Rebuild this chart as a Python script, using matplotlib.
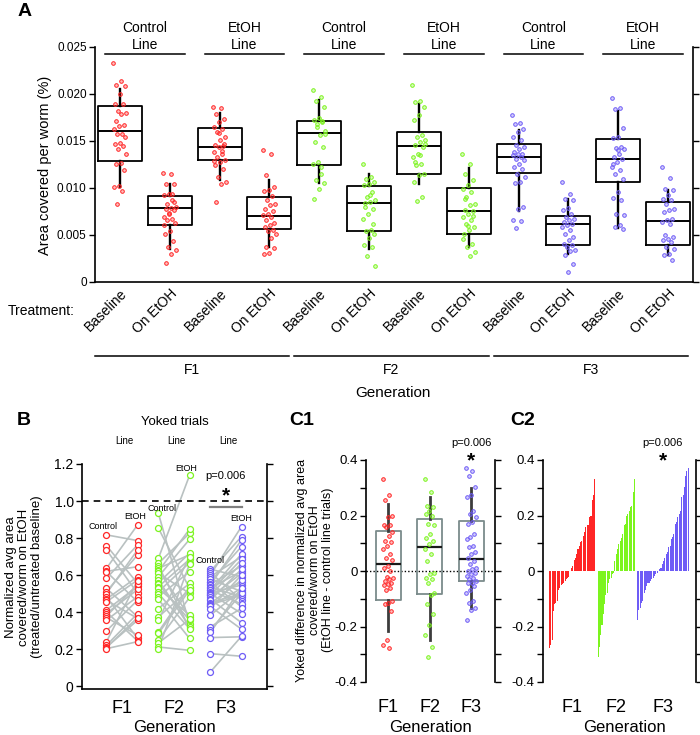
import numpy as np
import matplotlib
matplotlib.use('Agg')
import matplotlib.pyplot as plt
from matplotlib.colors import to_rgba
from matplotlib.transforms import blended_transform_factory as btf
from matplotlib.ticker import FixedLocator

plt.rcParams['font.family'] = ['Liberation Sans', 'DejaVu Sans']

# ---------------- data ----------------
generations = ['F1', 'F2', 'F3']
line_names = ['Control', 'EtOH']
treatments = ['Baseline', 'On EtOH']
gen_colors = ['#ff2626', '#7cf41e', '#6e5cf6']

# Panel A box statistics, 12 groups: (F1 ctrl-base, F1 ctrl-EtOH, F1 EtOH-base, F1 EtOH-EtOH, F2 ..., F3 ...)
a_q1 = [0.01291, 0.00610, 0.01298, 0.00564, 0.01241, 0.00539, 0.01145, 0.00514, 0.01163, 0.00390, 0.01067, 0.00394]
a_med = [0.01606, 0.00787, 0.01436, 0.00702, 0.01582, 0.00837, 0.01443, 0.00755, 0.01333, 0.00620, 0.01305, 0.00652]
a_q3 = [0.01869, 0.00915, 0.01635, 0.00908, 0.01713, 0.01021, 0.01599, 0.01004, 0.01465, 0.00706, 0.01518, 0.00851]
a_wlo = [0.01010, 0.00355, 0.01082, 0.00372, 0.01053, 0.00355, 0.01039, 0.00369, 0.00755, 0.00301, 0.00574, 0.00284]
a_whi = [0.02057, 0.01046, 0.01801, 0.01089, 0.01933, 0.01150, 0.01890, 0.01216, 0.01620, 0.00887, 0.01816, 0.00975]

a_f1_ctrl_base = [0.02333, 0.02135, 0.02092, 0.02081, 0.02004, 0.01897, 0.01890, 0.01816, 0.01798, 0.01791,
                  0.01713, 0.01674, 0.01656, 0.01631, 0.01578, 0.01571, 0.01543, 0.01479, 0.01465, 0.01443,
                  0.01411, 0.01358, 0.01270, 0.01259, 0.01188, 0.01021, 0.01011, 0.00968, 0.00833]
a_f1_ctrl_etoh = [0.01160, 0.01145, 0.01046, 0.01039, 0.00940, 0.00922, 0.00876, 0.00826, 0.00798, 0.00791,
                  0.00780, 0.00762, 0.00727, 0.00691, 0.00674, 0.00656, 0.00628, 0.00543, 0.00514, 0.00436,
                  0.00372, 0.00344, 0.00294, 0.00202, 0.00850, 0.00730, 0.00610, 0.00940]
a_f1_etoh_base = [0.01862, 0.01855, 0.01791, 0.01738, 0.01702, 0.01649, 0.01631, 0.01596, 0.01543, 0.01507,
                  0.01454, 0.01443, 0.01436, 0.01383, 0.01365, 0.01330, 0.01301, 0.01277, 0.01241, 0.01206,
                  0.01117, 0.01064, 0.01046, 0.00851, 0.01470, 0.01580, 0.01290, 0.01390]
a_f1_etoh_etoh = [0.01401, 0.01358, 0.01135, 0.01011, 0.00982, 0.00968, 0.00911, 0.00876, 0.00833, 0.00816,
                  0.00780, 0.00755, 0.00727, 0.00709, 0.00691, 0.00656, 0.00628, 0.00603, 0.00585, 0.00557,
                  0.00543, 0.00514, 0.00472, 0.00372, 0.00365, 0.00309, 0.00294]
a_f2_ctrl_base = [0.02046, 0.01968, 0.01926, 0.01862, 0.01748, 0.01727, 0.01713, 0.01684, 0.01578, 0.01560,
                  0.01489, 0.01436, 0.01277, 0.01259, 0.01152, 0.01082, 0.01053, 0.00993, 0.00879, 0.01700,
                  0.01650, 0.01610, 0.01220]
a_f2_ctrl_etoh = [0.01259, 0.01117, 0.01099, 0.01064, 0.01046, 0.01028, 0.00957, 0.00904, 0.00869, 0.00851,
                  0.00798, 0.00780, 0.00727, 0.00674, 0.00550, 0.00543, 0.00514, 0.00472, 0.00390, 0.00372,
                  0.00273, 0.00170, 0.00930, 0.00840, 0.00620]
a_f2_etoh_base = [0.02092, 0.01926, 0.01915, 0.01862, 0.01773, 0.01720, 0.01560, 0.01543, 0.01507, 0.01489,
                  0.01454, 0.01436, 0.01358, 0.01330, 0.01252, 0.01241, 0.01152, 0.01135, 0.01064, 0.00904,
                  0.00862, 0.01470, 0.01350, 0.01280]
a_f2_etoh_etoh = [0.01365, 0.01259, 0.01152, 0.01082, 0.01028, 0.00993, 0.00957, 0.00904, 0.00833, 0.00816,
                  0.00762, 0.00755, 0.00727, 0.00691, 0.00656, 0.00621, 0.00585, 0.00550, 0.00514, 0.00408,
                  0.00372, 0.00319, 0.00273, 0.00880, 0.00700, 0.00600, 0.00460]
a_f3_ctrl_base = [0.01780, 0.01695, 0.01677, 0.01631, 0.01596, 0.01543, 0.01507, 0.01454, 0.01436, 0.01418,
                  0.01383, 0.01365, 0.01358, 0.01348, 0.01330, 0.01312, 0.01294, 0.01259, 0.01223, 0.01206,
                  0.01152, 0.01117, 0.01064, 0.01053, 0.00798, 0.00780, 0.00656, 0.00649, 0.00578]
a_f3_ctrl_etoh = [0.01064, 0.00933, 0.00887, 0.00869, 0.00791, 0.00762, 0.00727, 0.00691, 0.00674, 0.00656,
                  0.00638, 0.00621, 0.00603, 0.00585, 0.00550, 0.00514, 0.00479, 0.00443, 0.00408, 0.00390,
                  0.00372, 0.00344, 0.00330, 0.00284, 0.00195, 0.00106]
a_f3_etoh_base = [0.01961, 0.01855, 0.01837, 0.01642, 0.01543, 0.01535, 0.01436, 0.01429, 0.01418, 0.01365,
                  0.01330, 0.01312, 0.01277, 0.01223, 0.01188, 0.01152, 0.01099, 0.00957, 0.00897, 0.00869,
                  0.00727, 0.00709, 0.00603, 0.00585, 0.00567, 0.01400, 0.01260]
a_f3_etoh_etoh = [0.01223, 0.01110, 0.00993, 0.00975, 0.00922, 0.00887, 0.00869, 0.00833, 0.00780, 0.00762,
                  0.00745, 0.00674, 0.00656, 0.00638, 0.00621, 0.00496, 0.00479, 0.00461, 0.00443, 0.00426,
                  0.00372, 0.00355, 0.00301, 0.00284, 0.00238]

# Panel B: yoked pairs (control-line value, EtOH-line value), same index = one yoked trial
b_f1_ctrl = [0.817, 0.759, 0.736, 0.636, 0.620, 0.618, 0.582, 0.528, 0.510, 0.500, 0.483, 0.470, 0.464,
             0.455, 0.410, 0.400, 0.392, 0.378, 0.370, 0.356, 0.298, 0.239, 0.220, 0.210, 0.208, 0.202]
b_f1_etoh = [0.786, 0.555, 0.501, 0.871, 0.645, 0.455, 0.763, 0.374, 0.709, 0.736, 0.257, 0.591, 0.365,
             0.573, 0.540, 0.244, 0.522, 0.550, 0.275, 0.483, 0.464, 0.570, 0.392, 0.356, 0.370, 0.240]
b_f2_ctrl = [0.934, 0.853, 0.690, 0.663, 0.651, 0.636, 0.627, 0.620, 0.609, 0.591, 0.573, 0.558, 0.550, 0.537,
             0.528, 0.510, 0.500, 0.483, 0.468, 0.419, 0.374, 0.356, 0.293, 0.284, 0.248, 0.233, 0.211, 0.202]
b_f2_etoh = [0.334, 0.528, 1.139, 0.826, 0.311, 0.709, 0.374, 0.848, 0.501, 0.793, 0.320, 0.718, 0.356, 0.685,
             0.383, 0.667, 0.310, 0.618, 0.257, 0.555, 0.520, 0.700, 0.537, 0.519, 0.479, 0.360, 0.193, 0.660]
b_f3_ctrl = [0.631, 0.620, 0.613, 0.600, 0.591, 0.580, 0.564, 0.560, 0.550, 0.546, 0.533, 0.530, 0.520, 0.519,
             0.510, 0.504, 0.500, 0.492, 0.490, 0.479, 0.470, 0.464, 0.450, 0.446, 0.440, 0.432, 0.430, 0.419,
             0.383, 0.320, 0.302, 0.290, 0.262, 0.175, 0.076]
b_f3_etoh = [0.591, 0.808, 0.464, 0.862, 0.699, 0.510, 0.754, 0.428, 0.649, 0.790, 0.483, 0.620, 0.714, 0.443,
             0.685, 0.546, 0.392, 0.663, 0.560, 0.609, 0.342, 0.631, 0.500, 0.573, 0.490, 0.528, 0.307, 0.600,
             0.519, 0.420, 0.501, 0.530, 0.266, 0.161, 0.269]

# Panel C: yoked differences (EtOH line - control line)
c_f1 = [0.333, 0.275, 0.255, 0.200, 0.194, 0.166, 0.164, 0.158, 0.139, 0.127, 0.109, 0.103, 0.090, 0.079,
        0.061, 0.048, 0.039, 0.018, 0.012, 0.000, -0.020, -0.024, -0.030, -0.035, -0.042, -0.046, -0.050,
        -0.060, -0.070, -0.109, -0.115, -0.120, -0.145, -0.248, -0.267, -0.279]
c_f2 = [0.333, 0.285, 0.236, 0.230, 0.218, 0.206, 0.200, 0.170, 0.164, 0.133, 0.120, 0.109, 0.097, 0.080,
        0.061, 0.036, -0.006, -0.012, -0.024, -0.030, -0.042, -0.079, -0.085, -0.120, -0.155, -0.194,
        -0.230, -0.273, -0.309]
c_f3 = [0.370, 0.361, 0.342, 0.303, 0.273, 0.267, 0.218, 0.206, 0.194, 0.176, 0.170, 0.133, 0.121, 0.115,
        0.091, 0.085, 0.067, 0.061, 0.048, 0.036, 0.024, 0.012, 0.006, 0.000, -0.006, -0.012, -0.018,
        -0.024, -0.030, -0.036, -0.042, -0.045, -0.055, -0.067, -0.080, -0.109, -0.115, -0.133, -0.139, -0.176]
c_q1 = [-0.104, -0.082, -0.036]
c_med = [0.027, 0.087, 0.045]
c_q3 = [0.143, 0.188, 0.179]
c_wlo = [-0.216, -0.248, -0.133]
c_whi = [0.242, 0.267, 0.300]
p_text = 'p=0.006'

# ---------------- figure ----------------
W, H = 700, 735
fig = plt.figure(figsize=(7, 7.35), dpi=100)


def fx(px):
    return px / W


def fy(py):
    return 1 - py / H


def jitter(n, w):
    return ((np.arange(n) * 0.618034) % 1 - 0.5) * 2 * w


# ===== Panel A =====
axA = fig.add_axes([fx(95), fy(282), fx(693 - 95), (282 - 47) / H])
a_points = [a_f1_ctrl_base, a_f1_ctrl_etoh, a_f1_etoh_base, a_f1_etoh_etoh,
            a_f2_ctrl_base, a_f2_ctrl_etoh, a_f2_etoh_base, a_f2_etoh_etoh,
            a_f3_ctrl_base, a_f3_ctrl_etoh, a_f3_etoh_base, a_f3_etoh_etoh]
statsA = [dict(q1=a_q1[i], med=a_med[i], q3=a_q3[i], whislo=a_wlo[i], whishi=a_whi[i], fliers=[])
          for i in range(12)]
axA.bxp(statsA, positions=range(12), widths=0.88, showfliers=False, showcaps=False,
        boxprops=dict(color='black', lw=1.3), whiskerprops=dict(color='black', lw=1.7),
        medianprops=dict(color='black', lw=1.4))
for i, vals in enumerate(a_points):
    col = gen_colors[i // 4]
    axA.plot(i + jitter(len(vals), 0.13), vals, 'o', ms=2.6, mew=0.7, mec=col,
             mfc=to_rgba(col, 0.3), zorder=4, ls='none')
axA.set_xlim(-0.5, 11.5)
axA.set_ylim(0, 0.025)
axA.set_yticks([0, 0.005, 0.010, 0.015, 0.020, 0.025])
axA.set_yticklabels(['0', '0.005', '0.010', '0.015', '0.020', '0.025'])
axA.tick_params(axis='y', labelsize=8.5, length=4, width=1, pad=2, right=True, labelright=False)
axA.set_xticks(range(12))
axA.set_xticklabels([treatments[i % 2] for i in range(12)], rotation=45, ha='right',
                    rotation_mode='anchor', fontsize=10)
axA.tick_params(axis='x', length=0, pad=3)
axA.spines['top'].set_visible(False)
for s in ['left', 'right', 'bottom']:
    axA.spines[s].set_linewidth(1.2)

for k in range(6):
    cx = 2 * k + 0.5
    axA.plot([cx - 0.8, cx + 0.8], [0.02425, 0.02425], color='black', lw=1.1, clip_on=False)
    axA.text(cx, 0.02475, 'Line', ha='center', va='baseline', fontsize=10)
    axA.text(cx, 0.02660, line_names[k % 2], ha='center', va='baseline', fontsize=10)

tA = btf(axA.transData, fig.transFigure)
for g in range(3):
    axA.plot([4 * g - 0.5, 4 * g + 3.4], [fy(356), fy(356)], color='black', lw=1.1,
             transform=tA, clip_on=False)
    axA.text(4 * g + 1.45, fy(370), generations[g], transform=tA, ha='center', va='center', fontsize=10)
axA.set_xlim(-0.5, 11.5)
fig.text(fx(393), fy(393), 'Generation', ha='center', va='center', fontsize=11)
fig.text(fx(8), fy(311), 'Treatment:', ha='left', va='center', fontsize=10)
fig.text(fx(45), fy(165), 'Area covered per worm (%)', rotation=90, ha='center', va='center', fontsize=10.5)
fig.text(fx(25), fy(11), 'A', ha='center', va='center', fontsize=14, fontweight='bold')

# ===== Panel B =====
axB = fig.add_axes([fx(82), fy(689), fx(267 - 82), (689 - 464) / H])
b_ctrl = [b_f1_ctrl, b_f2_ctrl, b_f3_ctrl]
b_etoh = [b_f1_etoh, b_f2_etoh, b_f3_etoh]
for g in range(3):
    col = gen_colors[g]
    for c, e in zip(b_ctrl[g], b_etoh[g]):
        axB.plot([g - 0.3, g + 0.3], [c, e], color='#b9c1c1', lw=1.2, zorder=2)
    axB.plot(np.full(len(b_ctrl[g]), g - 0.3), b_ctrl[g], 'o', ms=4.3, mfc='white', mec=col, mew=0.9, zorder=3)
    axB.plot(np.full(len(b_etoh[g]), g + 0.3), b_etoh[g], 'o', ms=4.3, mfc='white', mec=col, mew=0.9, zorder=3)
axB.axhline(1.0, ls=(0, (4, 3)), color='black', lw=1.2)
axB.set_xlim(-0.77, 2.79)
axB.set_ylim(-0.016, 1.2)
axB.set_yticks([0, 0.2, 0.4, 0.6, 0.8, 1.0, 1.2])
axB.set_yticklabels(['0', '0.2', '0.4', '0.6', '0.8', '1.0', '1.2'])
axB.tick_params(axis='y', labelsize=10, length=4, width=1, pad=2, right=True, labelright=False)
axB.set_xticks(range(3))
axB.set_xticklabels(generations, fontsize=13)
axB.tick_params(axis='x', length=0, pad=8)
axB.spines['top'].set_visible(False)
for s in ['left', 'right', 'bottom']:
    axB.spines[s].set_linewidth(1.2)
b_lab_pos = [(-0.37, 0.86, 'Control'), (0.25, 0.915, 'EtOH'), (0.77, 0.962, 'Control'),
             (1.23, 1.178, 'EtOH'), (1.69, 0.681, 'Control'), (2.29, 0.908, 'EtOH')]
for x, y, t in b_lab_pos:
    axB.text(x, y, t, ha='center', va='center', fontsize=6.5)
axB.plot([1.7, 2.3], [0.967, 0.967], color='#808080', lw=1.6)
axB.text(2.0, 1.03, '*', ha='center', va='center', fontsize=15, fontweight='bold')
axB.text(2.0, 1.135, p_text, ha='center', va='center', fontsize=8)
tB = btf(axB.transData, fig.transFigure)
for g in range(3):
    axB.text(g + 0.05, fy(441), 'Line', transform=tB, ha='center', va='center', fontsize=7)
fig.text(fx(175), fy(422), 'Yoked trials', ha='center', va='center', fontsize=9.5)
fig.text(fx(24), fy(577), 'Normalized avg area\ncovered/worm on EtOH\n(treated/untreated baseline)',
         rotation=90, ha='center', va='center', fontsize=9.5, linespacing=1.1)
fig.text(fx(175), fy(727), 'Generation', ha='center', va='center', fontsize=12)
fig.text(fx(24), fy(421), 'B', ha='center', va='center', fontsize=14, fontweight='bold')

# ===== Panel C1 =====
c_vals = [c_f1, c_f2, c_f3]
axC1 = fig.add_axes([fx(366), fy(682), fx(129), 222 / H])
statsC = [dict(q1=c_q1[i], med=c_med[i], q3=c_q3[i], whislo=c_wlo[i], whishi=c_whi[i], fliers=[])
          for i in range(3)]
axC1.bxp(statsC, positions=range(3), widths=0.6, showfliers=False, showcaps=False,
         boxprops=dict(color='#7b8b8b', lw=1.3), whiskerprops=dict(color='#3c3c3c', lw=2.0),
         medianprops=dict(color='#1a1a1a', lw=1.6))
for g in range(3):
    col = gen_colors[g]
    axC1.plot(g + jitter(len(c_vals[g]), 0.12), c_vals[g], 'o', ms=2.6, mew=0.7, mec=col,
              mfc=to_rgba(col, 0.3), zorder=4, ls='none')
axC1.axhline(0, ls=(0, (1, 1.5)), color='black', lw=1.0, zorder=1)
axC1.set_xlim(-0.53, 2.57)
axC1.set_ylim(-0.4, 0.4)
axC1.yaxis.set_major_locator(FixedLocator([-0.4, -0.2, 0, 0.2, 0.4]))
axC1.set_yticklabels(['-0.4', '-0.2', '0', '0.2', '0.4'])
axC1.yaxis.set_minor_locator(FixedLocator([-0.3, -0.1, 0.1, 0.3]))
axC1.tick_params(axis='y', which='both', labelsize=9.5, length=4, width=1, pad=2, right=True, labelright=False)
axC1.set_xticks(range(3))
axC1.set_xticklabels(generations, fontsize=13)
axC1.tick_params(axis='x', length=0, pad=12)
for s in ['top', 'bottom']:
    axC1.spines[s].set_visible(False)
for s in ['left', 'right']:
    axC1.spines[s].set_linewidth(1.2)
axC1.text(2, 0.461, p_text, ha='center', va='center', fontsize=8)
axC1.text(2, 0.395, '*', ha='center', va='center', fontsize=15, fontweight='bold')
fig.text(fx(315), fy(570), 'Yoked difference in normalized avg area\ncovered/worm on EtOH\n(EtOH line - control line trials)',
         rotation=90, ha='center', va='center', fontsize=9, linespacing=1.1)
fig.text(fx(430), fy(728), 'Generation', ha='center', va='center', fontsize=12)
fig.text(fx(302), fy(421), 'C1', ha='center', va='center', fontsize=14, fontweight='bold')

# ===== Panel C2 =====
axC2 = fig.add_axes([fx(543), fy(682), fx(696 - 543), 222 / H])
start = 0.0
centers = []
for g in range(3):
    vals = np.sort(np.array(c_vals[g]))
    xs = start + np.arange(len(vals))
    axC2.bar(xs, vals, width=0.82, color=gen_colors[g], linewidth=0)
    centers.append(xs.mean())
    start = xs[-1] + 2.5
axC2.set_xlim(-5, start - 2.5 + 6)
axC2.set_ylim(-0.4, 0.4)
axC2.yaxis.set_major_locator(FixedLocator([-0.4, -0.2, 0, 0.2, 0.4]))
axC2.set_yticklabels(['-0.4', '-0.2', '0', '0.2', '0.4'])
axC2.yaxis.set_minor_locator(FixedLocator([-0.3, -0.1, 0.1, 0.3]))
axC2.tick_params(axis='y', which='both', labelsize=9.5, length=4, width=1, pad=2, right=True, labelright=False)
axC2.set_xticks(centers)
axC2.set_xticklabels(generations, fontsize=13)
axC2.tick_params(axis='x', length=0, pad=12)
for s in ['top', 'bottom']:
    axC2.spines[s].set_visible(False)
for s in ['left', 'right']:
    axC2.spines[s].set_linewidth(1.2)
axC2.text(centers[2], 0.461, p_text, ha='center', va='center', fontsize=8)
axC2.text(centers[2], 0.395, '*', ha='center', va='center', fontsize=15, fontweight='bold')
fig.text(fx(625), fy(728), 'Generation', ha='center', va='center', fontsize=12)
fig.text(fx(523), fy(421), 'C2', ha='center', va='center', fontsize=14, fontweight='bold')

fig.savefig('out.png', dpi=100)
